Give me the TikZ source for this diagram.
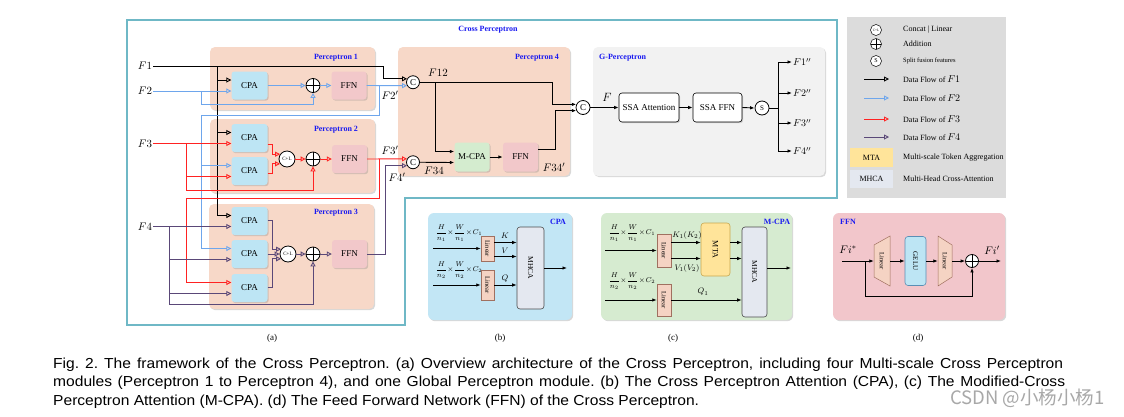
\documentclass[tikz,border=0pt]{standalone}
\usepackage{graphicx}
\usepackage{fontspec}
\setmainfont{Liberation Serif}
\newfontfamily\capfont[FakeStretch=1.075]{Liberation Sans}
\newfontfamily\cjkfont{Noto Sans CJK SC}
\usetikzlibrary{arrows.meta,shadows,calc}
\frenchspacing
\definecolor{peach}{HTML}{F7D8C8}
\definecolor{cpab}{HTML}{BDE5F4}
\definecolor{ffnp}{HTML}{F2C8CA}
\definecolor{mcpag}{HTML}{D4ECCF}
\definecolor{gper}{HTML}{F2F2F2}
\definecolor{leg}{HTML}{DCDCDC}
\definecolor{cpteal}{HTML}{6FB8C6}
\definecolor{lblue}{HTML}{1A1AF0}
\definecolor{wblue}{HTML}{6EA6EC}
\definecolor{wred}{HTML}{FF2222}
\definecolor{wpur}{HTML}{5A4878}
\definecolor{mtay}{HTML}{FFE49A}
\definecolor{mtab}{HTML}{C8A850}
\definecolor{mhcaf}{HTML}{E4E8F0}
\definecolor{linf}{HTML}{F5D3C3}
\definecolor{linb}{HTML}{A07060}
\definecolor{subb}{HTML}{C2E6F5}
\definecolor{subc}{HTML}{D6EBD0}
\definecolor{subd}{HTML}{F2C6CB}
\definecolor{geluf}{HTML}{BDE5F4}
\definecolor{gelub}{HTML}{5A8FB5}
\definecolor{wmgray}{HTML}{A8A8A8}
\tikzset{
  oa/.style={-{Triangle[open,length=5pt,width=5pt]}},
  fa/.style={-{Latex[length=4.5pt,width=3.5pt]}},
  kw/.style={draw=black,line width=0.9pt},
  bw/.style={draw=wblue,line width=0.9pt},
  rw/.style={draw=wred,line width=0.9pt},
  pw/.style={draw=wpur,line width=0.9pt},
  tw/.style={draw=black,line width=0.8pt},
  shadowed/.style={drop shadow={shadow xshift=1.2pt,shadow yshift=-1.2pt,opacity=0.3}},
  pbg/.style={fill=peach,rounded corners=5pt,inner sep=0,shadowed},
  plabel/.style={font=\fontsize{8}{9}\selectfont\bfseries,text=lblue,inner sep=0},
  cpa/.style={fill=cpab,rounded corners=3pt,minimum width=36pt,minimum height=28pt,inner sep=0,shadowed},
  ffn/.style={fill=ffnp,rounded corners=3pt,minimum width=35pt,minimum height=28pt,inner sep=0,shadowed},
  ccirc/.style={circle,draw,line width=0.8pt,fill=white,minimum size=13pt,inner sep=0},
  clc/.style={circle,draw,line width=0.8pt,fill=white,minimum size=16pt,inner sep=0,font=\fontsize{5}{5}\selectfont},
  addc/.style={circle,draw,line width=0.8pt,fill=white,minimum size=14pt,inner sep=0,
    path picture={\draw[line width=0.8pt] (path picture bounding box.north) -- (path picture bounding box.south)
      (path picture bounding box.west) -- (path picture bounding box.east);}},
  flab/.style={font=\fontsize{11}{12}\selectfont,inner sep=1pt},
  olab/.style={font=\fontsize{10}{11}\selectfont,inner sep=1pt,anchor=west},
  ssa/.style={fill=white,draw,line width=0.6pt,rounded corners=3pt,minimum height=29pt,inner sep=0,shadowed},
  legt/.style={font=\fontsize{8}{9}\selectfont,anchor=west,inner sep=0},
  subbox/.style={rounded corners=6pt,inner sep=0,minimum width=#1,minimum height=107pt,shadowed},
  lin/.style={fill=linf,draw=linb,line width=0.5pt,inner sep=0,font=\fontsize{6.5}{7}\selectfont},
  mhcab/.style={fill=mhcaf,draw=black!70,line width=0.6pt,rounded corners=3pt,inner sep=0,font=\fontsize{7.5}{8}\selectfont},
  smath/.style={font=\fontsize{7}{8}\selectfont,inner sep=0},
  sublab/.style={font=\fontsize{9}{10}\selectfont},
  capt/.style={font=\capfont\fontsize{14.5}{16}\selectfont,anchor=base west,inner sep=0}
}
\begin{document}
\begin{tikzpicture}[x=1pt,y=-1pt,font=\fontsize{9}{10}\selectfont]
\useasboundingbox (0,0) rectangle (1124,416);
\fill[white] (0,0) rectangle (1124,416);

% ---------- (a) outer frame
\draw[cpteal,line width=1.3pt] (127,20) -- (837,20) -- (837,198) -- (405,198) -- (405,325) -- (127,325) -- cycle;
\node[plabel] (crossl) at (488,30) {Cross Perceptron};

% backgrounds
\node[pbg,minimum width=165pt,minimum height=63pt] (P1) at (292.5,78.5) {};
\node[pbg,minimum width=165pt,minimum height=74pt] (P2) at (292.5,156) {};
\node[pbg,minimum width=165pt,minimum height=105pt] (P3) at (291.5,256.5) {};
\node[pbg,minimum width=172pt,minimum height=129pt] (P4) at (484,111.5) {};
\node[fill=gper,rounded corners=5pt,inner sep=0,shadowed,minimum width=232pt,minimum height=129pt] (GP) at (709,111.5) {};
\node[plabel] (P1l) at (336,58) {Perceptron 1};
\node[plabel] (P2l) at (336,130) {Perceptron 2};
\node[plabel] (P3l) at (336,213) {Perceptron 3};
\node[plabel] (P4l) at (537,58) {Perceptron 4};
\node[plabel,anchor=west] (GPl) at (599,58) {G-Perceptron};

% inputs
\node[flab] (F1) at (145,66) {$F1$};
\node[flab] (F2) at (145,91) {$F2$};
\node[flab] (F3) at (145,143.5) {$F3$};
\node[flab] (F4) at (145,226.5) {$F4$};

% CPA / FFN blocks
\node[cpa] (cpa1) at (249.5,85.5) {CPA};
\node[cpa] (cpa2a) at (249.5,138) {CPA};
\node[cpa] (cpa2b) at (249.5,171) {CPA};
\node[cpa] (cpa3a) at (249.5,221) {CPA};
\node[cpa] (cpa3b) at (249.5,254) {CPA};
\node[cpa] (cpa3c) at (249.5,288) {CPA};
\node[addc] (add1) at (313,85.5) {};
\node[ffn] (ffn1) at (349,85.5) {FFN};
\node[clc] (cl2) at (287,159) {C+L};
\node[addc] (add2) at (313,159) {};
\node[ffn] (ffn2) at (349.5,159) {FFN};
\node[clc] (cl3) at (288,254) {C+L};
\node[addc] (add3) at (313,254) {};
\node[ffn] (ffn3) at (349.5,254) {FFN};
\node[ccirc] (c1) at (413,82.25) {C};
\node[ccirc] (c2) at (413,162.25) {C};

% black F1 flow
\coordinate (k1) at (217,66);
\draw[kw,oa] (F1.east) -- (383,66) |- (c1.150);
\draw[kw,oa] (k1) |- ([yshift=5.5pt]cpa1.west);
\draw[kw,oa] (k1) |- ([yshift=5.5pt]cpa2a.west);
\draw[kw,oa] (k1) |- ([yshift=5.5pt]cpa3a.west);

% blue F2 flow
\draw[bw,oa] (F2.east) -- ([yshift=-5.5pt]cpa1.west);
\coordinate (b1) at (201,91);
\draw[bw,oa] (b1) -- (201,104) -| (add1.south);
\draw[bw,oa] (cpa1.east) -- (add1.west);
\draw[bw,oa] (add1.east) -- (ffn1.west);
\draw[bw,oa] (ffn1.east) -- (c1.210);
\coordinate (b2) at (379,85.5);
\coordinate (b3) at (201,115);
\draw[bw,oa] (b2) -- (379,115) -- (b3) |- ([yshift=5.5pt]cpa2b.west);
\draw[bw,oa] (b3) |- ([yshift=5.5pt]cpa3b.west);

% red F3 flow
\draw[rw,oa] (F3.east) -- ([yshift=-5.5pt]cpa2a.west);
\coordinate (r1) at (186,143.5);
\draw[rw,oa] (r1) |- ([yshift=-5.5pt]cpa2b.west);
\draw[rw,oa] (r1) -- (186,190) -| (add2.south);
\draw[rw,oa] ([yshift=-6pt]cpa2a.east) -- (272,144) |- (cl2.145);
\draw[rw,oa] ([yshift=-2pt]cpa2b.east) -- (272,173) |- (cl2.215);
\draw[rw,oa] (cl2.east) -- (add2.west);
\draw[rw,oa] (add2.east) -- (ffn2.west);
\draw[rw,oa] (ffn2.east) -- (c2.150);
\coordinate (r2) at (379,159);
\draw[rw,oa] (r2) -- (379,198) -- (186,198) |- ([yshift=5.5pt]cpa3c.west);

% purple F4 flow
\draw[pw,oa] (F4.east) -- ([yshift=-5.5pt]cpa3a.west);
\coordinate (p1) at (169,226.5);
\draw[pw,oa] (p1) |- ([yshift=-5.5pt]cpa3b.west);
\draw[pw,oa] (p1) |- ([yshift=-5.5pt]cpa3c.west);
\draw[pw,oa] (p1) -- (169,304) -| (add3.south);
\draw[pw,oa] ([yshift=1pt]cpa3a.east) -- (272,220) |- (cl3.145);
\draw[pw,oa] (cpa3b.east) -- (cl3.west);
\draw[pw,oa] ([yshift=1pt]cpa3c.east) -- (272,287) |- (cl3.215);
\draw[pw,oa] (cl3.east) -- (add3.west);
\draw[pw,oa] (add3.east) -- (ffn3.west);
\draw[pw,oa] (ffn3.east) -- (385,254) |- (c2.210);

\node[flab] (F2p) at (390,95) {$F2'$};
\node[flab] (F3p) at (390,150) {$F3'$};
\node[flab] (F4p) at (397,177) {$F4'$};

% Perceptron 4
\node[fill=mcpag,rounded corners=3pt,minimum width=35pt,minimum height=29pt,inner sep=0,shadowed] (mcpa) at (472,157) {M-CPA};
\node[ffn,minimum height=29pt] (ffn4) at (520.5,157) {FFN};
\node[ccirc,minimum size=14pt] (cc) at (583,107.5) {C};
\draw[kw,fa] (c1.east) -- (552,82.25) |- (cc.155);
\coordinate (k12) at (435,82.25);
\draw[kw,fa] (k12) |- ([yshift=5.5pt]mcpa.west);
\draw[kw,fa] (c2.east) -- ([yshift=-5.5pt]mcpa.west);
\draw[kw,fa] (mcpa.east) -- (ffn4.west);
\draw[kw,fa] ([yshift=8pt]ffn4.east) -- (555,149) |- (cc.205);
\node[flab] (F12) at (438,73) {$F12$};
\node[flab] (F34) at (434,171) {$F34$};
\node[flab] (F34p) at (554,167) {$F34'$};

% G-Perceptron
\node[ssa,minimum width=60pt] (ssa1) at (649,107.5) {SSA Attention};
\node[ssa,minimum width=49pt] (ssa2) at (717.5,107.5) {SSA FFN};
\node[ccirc,minimum size=14pt,font=\fontsize{7}{8}\selectfont] (sc) at (762,108) {S};
\node[font=\fontsize{12}{13}\selectfont] (Fl) at (607,97) {$F$};
\draw[kw,fa] (cc.east) -- (ssa1.west);
\draw[kw,fa] (ssa1.east) -- (ssa2.west);
\draw[kw,fa] (ssa2.east) -- (sc.west);
\coordinate (st) at (778,108);
\draw[kw] (sc.east) -- (st);
\node[olab] (o1) at (792,62) {$F1''$};
\node[olab] (o2) at (792,93) {$F2''$};
\node[olab] (o3) at (792,123) {$F3''$};
\node[olab] (o4) at (792,151) {$F4''$};
\draw[kw,fa] (st) |- (o1.west);
\draw[kw,fa] (st) |- (o2.west);
\draw[kw,fa] (st) |- (o3.west);
\draw[kw,fa] (st) |- (o4.west);

% ---------- legend
\node[fill=leg,minimum width=159pt,minimum height=181pt,inner sep=0] (legbox) at (926.5,107.5) {};
\node[clc,minimum size=11pt,line width=0.5pt,font=\fontsize{3.5}{4}\selectfont] (lg1) at (876,30) {C+L};
\node[addc,minimum size=11pt,line width=0.5pt] (lg2) at (876,44) {};
\node[ccirc,minimum size=11pt,line width=0.5pt,font=\fontsize{6}{7}\selectfont] (lg3) at (876,61) {S};
\node[legt] (lt1) at (903,30) {Concat | Linear};
\node[legt] (lt2) at (903,44) {Addition};
\node[legt,font=\fontsize{6.5}{7}\selectfont] (lt3) at (903,61) {Split fusion features};
\coordinate (la1) at (864,79); \coordinate (la1e) at (889,79);
\coordinate (la2) at (864,98); \coordinate (la2e) at (889,98);
\coordinate (la3) at (864,119); \coordinate (la3e) at (889,119);
\coordinate (la4) at (864,137); \coordinate (la4e) at (889,137);
\draw[kw,oa] (la1) -- (la1e);
\draw[bw,oa] (la2) -- (la2e);
\draw[rw,oa] (la3) -- (la3e);
\draw[pw,oa] (la4) -- (la4e);
\node[legt] (lt4) at (903,79) {Data Flow of {\fontsize{10}{10}\selectfont$F1$}};
\node[legt] (lt5) at (903,98) {Data Flow of {\fontsize{10}{10}\selectfont$F2$}};
\node[legt] (lt6) at (903,119) {Data Flow of {\fontsize{10}{10}\selectfont$F3$}};
\node[legt] (lt7) at (903,137) {Data Flow of {\fontsize{10}{10}\selectfont$F4$}};
\node[fill=mtay,minimum width=43pt,minimum height=19pt,inner sep=0,font=\fontsize{8}{9}\selectfont] (lmta) at (871.5,157.5) {MTA};
\node[fill=mhcaf,minimum width=43pt,minimum height=18pt,inner sep=0,font=\fontsize{8}{9}\selectfont] (lmhca) at (871.5,179) {MHCA};
\node[legt] (lt8) at (903,157.5) {Multi-scale Token Aggregation};
\node[legt] (lt9) at (903,179) {Multi-Head Cross-Attention};

% ---------- (b) CPA
\node[subbox=144pt,fill=subb] (bx) at (500,266.5) {};
\node[plabel] (bxl) at (558,222) {CPA};
\node[smath] (bm1) at (459,233) {$\displaystyle\frac{H}{n_1}\!\times\!\frac{W}{n_1}\!\times\! C_1$};
\node[smath] (bm2) at (459,270) {$\displaystyle\frac{H}{n_2}\!\times\!\frac{W}{n_2}\!\times\! C_2$};
\node[lin,minimum width=13pt,minimum height=25pt] (lb1) at (487.5,248.5) {\rotatebox{-90}{Linear}};
\node[lin,minimum width=13pt,minimum height=30pt] (lb2) at (487.5,285) {\rotatebox{-90}{Linear}};
\node[mhcab,minimum width=27pt,minimum height=82pt] (mb) at (530.5,268) {\rotatebox{-90}{MHCA}};
\coordinate (bin1) at (433,248.5);
\coordinate (bin2) at (433,285);
\coordinate (bout) at (567,268);
\draw[tw,fa] (bin1) -- (lb1.west);
\draw[tw,fa] (bin2) -- (lb2.west);
\draw[tw,fa] ([yshift=6pt]lb1.east) -- ([yshift=6pt]lb1.east -| mb.west);
\draw[tw,fa] ([yshift=-8pt]lb1.east) -- ([yshift=-8pt]lb1.east -| mb.west);
\draw[tw,fa] (lb2.east) -- (lb2.east -| mb.west);
\draw[tw,fa] (mb.east) -- (bout);
\node[smath,font=\fontsize{8}{9}\selectfont] (bK) at (505,236) {$K$};
\node[smath,font=\fontsize{8}{9}\selectfont] (bV) at (505,251) {$V$};
\node[smath,font=\fontsize{8}{9}\selectfont] (bQ) at (505,279) {$Q$};

% ---------- (c) M-CPA
\node[subbox=191pt,fill=subc] (cx) at (696.5,266.5) {};
\node[plabel] (cxl) at (777,222) {M-CPA};
\node[smath] (cm1) at (632,233) {$\displaystyle\frac{H}{n_1}\!\times\!\frac{W}{n_1}\!\times\! C_1$};
\node[smath] (cm2) at (632,281) {$\displaystyle\frac{H}{n_2}\!\times\!\frac{W}{n_2}\!\times\! C_2$};
\node[lin,minimum width=14pt,minimum height=33pt] (lc1) at (664,250.5) {\rotatebox{-90}{Linear}};
\node[lin,minimum width=14pt,minimum height=32pt] (lc2) at (664,300) {\rotatebox{-90}{Linear}};
\node[fill=mtay,draw=mtab,line width=0.6pt,rounded corners=3pt,inner sep=0,minimum width=29pt,minimum height=53pt,font=\fontsize{8}{9}\selectfont] (mta) at (715.5,249.5) {\rotatebox{-90}{MTA}};
\node[mhcab,minimum width=25pt,minimum height=90pt] (mc) at (754.5,272) {\rotatebox{-90}{MHCA}};
\coordinate (cin1) at (605,250.5);
\coordinate (cin2) at (605,300);
\coordinate (cout) at (791,268);
\draw[tw,fa] (cin1) -- (lc1.west);
\draw[tw,fa] (cin2) -- (lc2.west);
\draw[tw,fa] ([yshift=8pt]lc1.east) -- ([yshift=8pt]lc1.east -| mta.west);
\draw[tw,fa] ([yshift=-8pt]lc1.east) -- ([yshift=-8pt]lc1.east -| mta.west);
\draw[tw,fa] ([yshift=7pt]mta.east) -- ([yshift=7pt]mta.east -| mc.west);
\draw[tw,fa] ([yshift=-9pt]mta.east) -- ([yshift=-9pt]mta.east -| mc.west);
\draw[tw,fa] (lc2.east) -- (lc2.east -| mc.west);
\draw[tw,fa] ([yshift=4pt]mc.east) -- (cout);
\node[smath,font=\fontsize{8}{9}\selectfont] (cK) at (687,235) {$K_1(K_2)$};
\node[smath,font=\fontsize{8}{9}\selectfont] (cV) at (687,268) {$V_1(V_2)$};
\node[smath,font=\fontsize{8}{9}\selectfont] (cQ) at (703,292) {$Q_1$};

% ---------- (d) FFN
\node[subbox=172pt,fill=subd] (dx) at (919,266.5) {};
\node[plabel] (dxl) at (848,222) {FFN};
\coordinate (t1c) at (882,261);
\coordinate (t2c) at (945,261);
\draw[fill=linf,draw=linb,line width=0.5pt] ($(t1c)+(-8,-16)$) -- ($(t1c)+(8,-25)$) -- ($(t1c)+(8,25)$) -- ($(t1c)+(-8,16)$) -- cycle;
\draw[fill=linf,draw=linb,line width=0.5pt] ($(t2c)+(-7,-25)$) -- ($(t2c)+(7,-16)$) -- ($(t2c)+(7,16)$) -- ($(t2c)+(-7,25)$) -- cycle;
\node[inner sep=0,minimum width=16pt,minimum height=32pt,font=\fontsize{6.5}{7}\selectfont] (ld1) at (t1c) {\rotatebox{-90}{Linear}};
\node[inner sep=0,minimum width=14pt,minimum height=32pt,font=\fontsize{6.5}{7}\selectfont] (ld2) at (t2c) {\rotatebox{-90}{Linear}};
\node[fill=geluf,draw=gelub,line width=0.6pt,rounded corners=3pt,inner sep=0,minimum width=21pt,minimum height=49pt,font=\fontsize{7}{8}\selectfont] (gelu) at (915.5,261) {\rotatebox{-90}{GELU}};
\node[addc,minimum size=13pt] (add4) at (972,261) {};
\coordinate (din) at (842,261);
\coordinate (dsk) at (865,261);
\coordinate (dout) at (1001,261);
\draw[tw,fa] (din) -- (ld1.west);
\draw[tw,fa] (ld1.east) -- (gelu.west);
\draw[tw,fa] (gelu.east) -- (ld2.west);
\draw[tw,fa] (ld2.east) -- (add4.west);
\draw[tw,fa] (add4.east) -- (dout);
\draw[tw,fa] (dsk) -- (865,296) -| (add4.south);
\node[flab] (Fis) at (848,250) {$Fi^{*}$};
\node[flab] (Fip) at (992,250) {$Fi'$};

% sub labels
\node[sublab] (la) at (272,338) {(a)};
\node[sublab] (lb) at (500,338) {(b)};
\node[sublab] (lc) at (673,338) {(c)};
\node[sublab] (ld) at (918,338) {(d)};

% caption
\node[capt] (cap1) at (53,368) {\makebox[1010pt][s]{Fig. 2. The framework of the Cross Perceptron. (a) Overview architecture of the Cross Perceptron, including four Multi-scale Cross Perceptron}};
\node[capt] (cap2) at (53,386.5) {\makebox[1012pt][s]{modules (Perceptron 1 to Perceptron 4), and one Global Perceptron module. (b) The Cross Perceptron Attention (CPA), (c) The Modified-Cross}};
\node[capt] (cap3) at (53,405) {Perceptron Attention (M-CPA). (d) The Feed Forward Network (FFN) of the Cross Perceptron.};
\node[anchor=base west,inner sep=0,text=wmgray,font=\cjkfont\fontsize{18.5}{19}\selectfont] (wm) at (950,404) {CSDN @小杨小杨1};
\end{tikzpicture}
\end{document}
